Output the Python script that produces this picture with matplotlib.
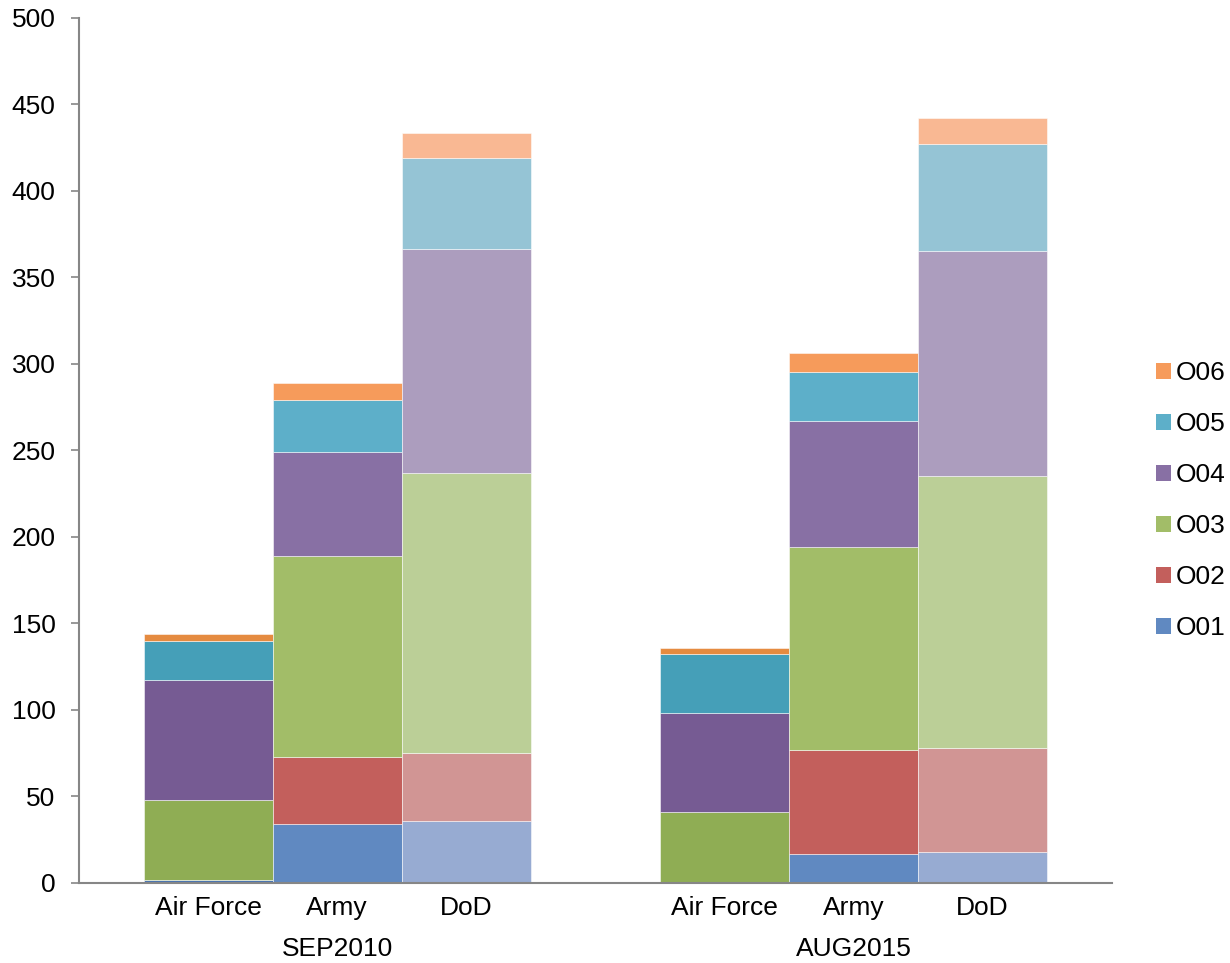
import numpy as np
import matplotlib
matplotlib.use('Agg')
import matplotlib.pyplot as plt
from matplotlib.patches import Patch

plt.rcParams['font.family'] = ['Liberation Sans', 'DejaVu Sans']

# data (stacked segment sizes)
periods = ['SEP2010', 'AUG2015']
services = ['Air Force', 'Army', 'DoD']
grades = ['O01', 'O02', 'O03', 'O04', 'O05', 'O06']

sep2010 = {
    'Air Force': [2, 0, 46, 69, 23, 4],
    'Army':      [34, 39, 116, 60, 30, 10],
    'DoD':       [36, 39, 162, 129, 53, 14],
}
aug2015 = {
    'Air Force': [0, 0, 41, 57, 34, 4],
    'Army':      [17, 60, 117, 73, 28, 11],
    'DoD':       [18, 60, 157, 130, 62, 15],
}

# shades per service: Air Force darker, Army base, DoD lighter
colors = {
    'Air Force': ['#4a74b0', '#b04a47', '#8fad54', '#765b93', '#459fb8', '#e58b40'],
    'Army':      ['#6089c1', '#c35f5c', '#a2bd68', '#8870a4', '#5dafc9', '#f69b5b'],
    'DoD':       ['#97abd2', '#d19594', '#bbcf97', '#ac9dbe', '#95c4d5', '#f9b893'],
}
legend_colors = colors['Army']

fig = plt.figure(figsize=(12.3, 9.63), dpi=100)
ax = fig.add_axes([0.0642, 0.0831, 0.8395, 0.8987])

axis_gray = '#868686'
fs = 19

for gi, (period, table) in enumerate(zip(periods, [sep2010, aug2015])):
    for si, svc in enumerate(services):
        x = 1 + gi * 4 + si
        vals = table[svc]
        bottom = 0
        for k, v in enumerate(vals):
            if v > 0:
                ax.bar(x, v, width=1.0, bottom=bottom, color=colors[svc][k],
                       edgecolor=(1, 1, 1, 0.6), linewidth=0.6, zorder=2)
            bottom += v
        ax.text(x, -0.0155, svc, transform=ax.get_xaxis_transform(),
                ha='center', va='top', fontsize=fs)
    ax.text(2 + gi * 4, -0.062, period, transform=ax.get_xaxis_transform(),
            ha='center', va='top', fontsize=fs)

ax.set_xlim(0, 8)
ax.set_ylim(0, 500)
ax.set_yticks(np.arange(0, 501, 50))
ax.set_xticks([])
ax.tick_params(axis='y', direction='out', length=5.8, width=1.2,
               color=axis_gray, labelsize=fs, pad=11)

for side in ['top', 'right']:
    ax.spines[side].set_visible(False)
for side in ['left', 'bottom']:
    ax.spines[side].set_color(axis_gray)
    ax.spines[side].set_linewidth(1.5)

handles = [Patch(facecolor=legend_colors[k], edgecolor='none', label=grades[k])
           for k in range(len(grades))][::-1]
fig.legend(handles=handles, loc='center left', bbox_to_anchor=(0.9315, 0.48),
           frameon=False, fontsize=fs, handlelength=0.55, handleheight=0.55,
           handletextpad=0.2, labelspacing=1.02, borderaxespad=0)

fig.savefig('out.png', dpi=100)
